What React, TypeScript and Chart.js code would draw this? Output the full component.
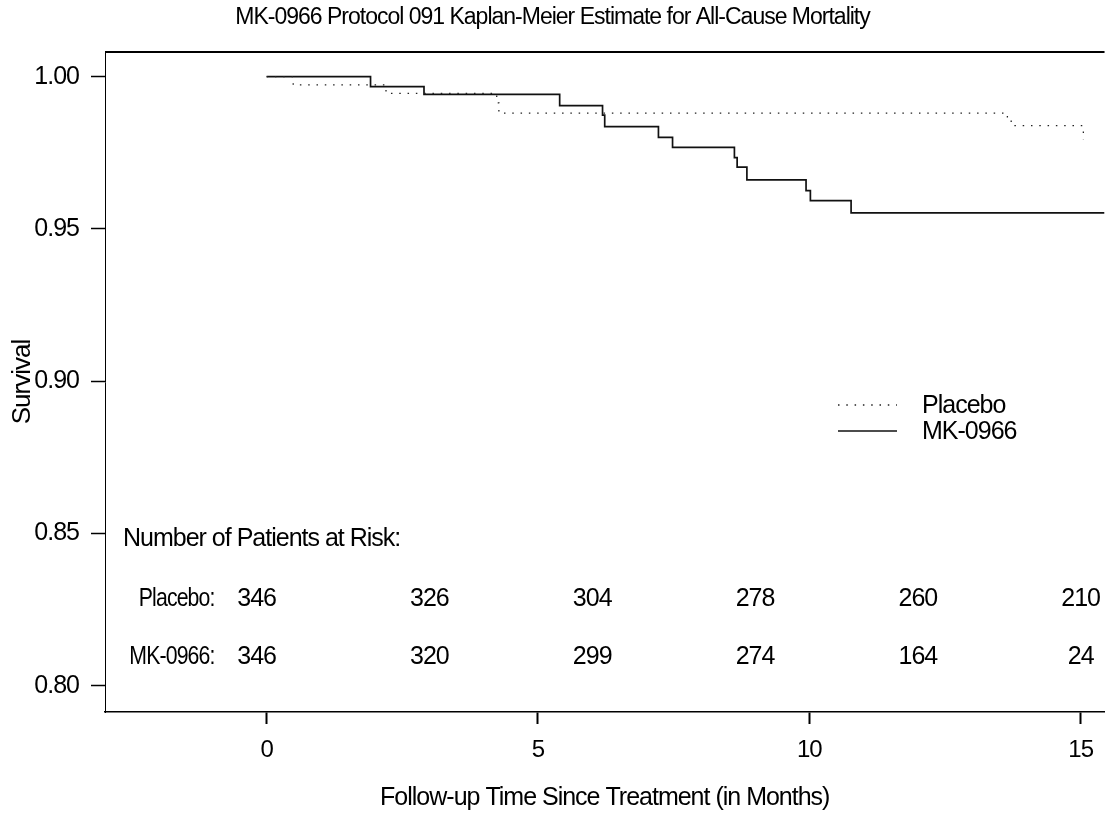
import React, { useEffect, useRef } from "react";
import { Chart, registerables } from "chart.js";

Chart.register(...registerables);

const titleText = "MK-0966 Protocol 091 Kaplan-Meier Estimate for All-Cause Mortality";
const xAxisTitle = "Follow-up Time Since Treatment (in Months)";
const yAxisTitle = "Survival";
const seriesNames = ["Placebo", "MK-0966"];

// Kaplan-Meier step points (time in months, survival after the event)
const placeboTimes = [0, 0.49, 2.2, 4.24, 4.28, 13.65, 13.72, 15.05];
const placeboSurv = [1.0, 0.9973, 0.9945, 0.9914, 0.988, 0.9858, 0.9839, 0.9792];

const mkTimes = [0, 1.915, 2.9, 5.4, 6.19, 6.23, 7.22, 7.48, 8.62, 8.67, 8.85, 9.94, 10.02, 10.77, 15.44];
const mkSurv = [1.0, 0.9967, 0.9942, 0.9905, 0.9874, 0.9836, 0.9801, 0.9768, 0.9734, 0.9703, 0.9661, 0.9626, 0.9593, 0.9553, 0.9553];

// Patients at risk table
const riskHeader = "Number of Patients at Risk:";
const riskRowLabels = ["Placebo:", "MK-0966:"];
const riskTimes = [0, 3, 6, 9, 12, 15];
const placeboAtRisk = [346, 326, 304, 278, 260, 210];
const mkAtRisk = [346, 320, 299, 274, 164, 24];

// Axis ticks
const xTickValues = [0, 5, 10, 15];
const yTickValues = [0.8, 0.85, 0.9, 0.95, 1.0];

const FONT = "'Liberation Sans', Arial, Helvetica, sans-serif";
const SPACING = "-1px";

const spacingPlugin = {
  id: "spacing",
  beforeLayout(chart: any) {
    chart.ctx.letterSpacing = SPACING;
  },
  beforeDraw(chart: any) {
    chart.ctx.letterSpacing = SPACING;
  },
};

const overlayPlugin = {
  id: "overlay",
  afterDraw(chart: any) {
    const { ctx, chartArea, scales } = chart;
    const xs = scales.x;
    ctx.save();
    ctx.letterSpacing = SPACING;
    // top frame line
    ctx.strokeStyle = "#000";
    ctx.lineWidth = 2;
    ctx.beginPath();
    ctx.moveTo(chartArea.left, chartArea.top);
    ctx.lineTo(chartArea.right, chartArea.top);
    ctx.stroke();

    // legend
    const ds = chart.data.datasets;
    const legX0 = chartArea.left + 733;
    const legX1 = chartArea.left + 792;
    const legY = [405, 431];
    ds.forEach((d: any, i: number) => {
      ctx.save();
      ctx.strokeStyle = d.borderColor;
      ctx.lineWidth = d.borderWidth;
      ctx.setLineDash(d.borderDash || []);
      ctx.beginPath();
      ctx.moveTo(legX0, legY[i]);
      ctx.lineTo(legX1, legY[i]);
      ctx.stroke();
      ctx.restore();
      ctx.fillStyle = "#000";
      ctx.font = `25px ${FONT}`;
      ctx.textAlign = "left";
      ctx.textBaseline = "middle";
      ctx.fillText(d.label, chartArea.left + 817, legY[i] + 1);
    });

    // risk table
    ctx.fillStyle = "#000";
    ctx.textBaseline = "middle";
    ctx.font = `25px ${FONT}`;
    ctx.textAlign = "left";
    ctx.fillText(riskHeader, chartArea.left + 18, chartArea.bottom - 173);
    const rows = [placeboAtRisk, mkAtRisk];
    const rowY = [chartArea.bottom - 113, chartArea.bottom - 55];
    rows.forEach((vals, r) => {
      ctx.save();
      ctx.font = `25px ${FONT}`;
      ctx.textAlign = "right";
      ctx.translate(xs.getPixelForValue(0) - 52, rowY[r]);
      ctx.scale(0.85, 1);
      ctx.fillText(riskRowLabels[r], 0, 0);
      ctx.restore();
      ctx.font = `25px ${FONT}`;
      ctx.textAlign = "center";
      vals.forEach((v, k) => {
        const px = xs.getPixelForValue(riskTimes[k]) - (k === 0 ? 10 : 0);
        ctx.fillText(String(v), px, rowY[r]);
      });
    });
    ctx.restore();
  },
};

export default function App() {
  const ref = useRef<HTMLCanvasElement | null>(null);
  useEffect(() => {
    document.body.style.margin = "0";
    const canvas = ref.current!;
    const chart = new Chart(canvas, {
      type: "line",
      data: {
        datasets: [
          {
            label: seriesNames[0],
            data: placeboTimes.map((t, i) => ({ x: t, y: placeboSurv[i] })),
            borderColor: "#222",
            borderWidth: 1.3,
            borderDash: [1.5, 6.8],
            stepped: "before",
            pointRadius: 0,
            fill: false,
          },
          {
            label: seriesNames[1],
            data: mkTimes.map((t, i) => ({ x: t, y: mkSurv[i] })),
            borderColor: "#111",
            borderWidth: 1.7,
            stepped: "before",
            pointRadius: 0,
            fill: false,
          },
        ],
      },
      options: {
        animation: false,
        responsive: false,
        devicePixelRatio: 1,
        layout: { padding: 0 },
        plugins: {
          legend: { display: false },
          tooltip: { enabled: false },
          title: {
            display: true,
            text: titleText,
            color: "#000",
            font: { family: FONT, size: 23, weight: "normal" },
            padding: { top: 4, bottom: 20.4 },
          },
        },
        scales: {
          x: {
            type: "linear",
            min: -2.978,
            max: 15.44,
            afterFit: (s: any) => {
              s.height = 102;
            },
            afterBuildTicks: (s: any) => {
              s.ticks = xTickValues.map((v) => ({ value: v }));
            },
            ticks: {
              color: "#000",
              font: { family: FONT, size: 24 },
              padding: 12,
              maxRotation: 0,
              autoSkip: false,
              callback: (v: any) => String(v),
            },
            grid: {
              display: true,
              drawOnChartArea: false,
              drawTicks: true,
              tickLength: 12,
              tickColor: "#000",
              tickWidth: 2,
            },
            border: { display: true, color: "#000", width: 1.5 },
            title: {
              display: true,
              text: xAxisTitle,
              color: "#000",
              font: { family: FONT, size: 25 },
              padding: { top: 0, bottom: 1 },
            },
          },
          y: {
            type: "linear",
            min: 0.7914,
            max: 1.0081,
            afterFit: (s: any) => {
              s.width = 105;
            },
            afterBuildTicks: (s: any) => {
              s.ticks = yTickValues.map((v) => ({ value: v }));
            },
            ticks: {
              color: "#000",
              font: { family: FONT, size: 25 },
              padding: 12,
              autoSkip: false,
              callback: (v: any) => Number(v).toFixed(2),
            },
            grid: {
              display: true,
              drawOnChartArea: false,
              drawTicks: true,
              tickLength: 14,
              tickColor: "#000",
              tickWidth: 1.5,
            },
            border: { display: true, color: "#000", width: 1 },
            title: {
              display: true,
              text: yAxisTitle,
              color: "#000",
              font: { family: FONT, size: 26 },
              padding: { top: 7, bottom: 0 },
            },
          },
        },
      },
      plugins: [spacingPlugin, overlayPlugin],
    });
    return () => chart.destroy();
  }, []);
  return <canvas ref={ref} width={1105} height={814} style={{ display: "block" }} />;
}
